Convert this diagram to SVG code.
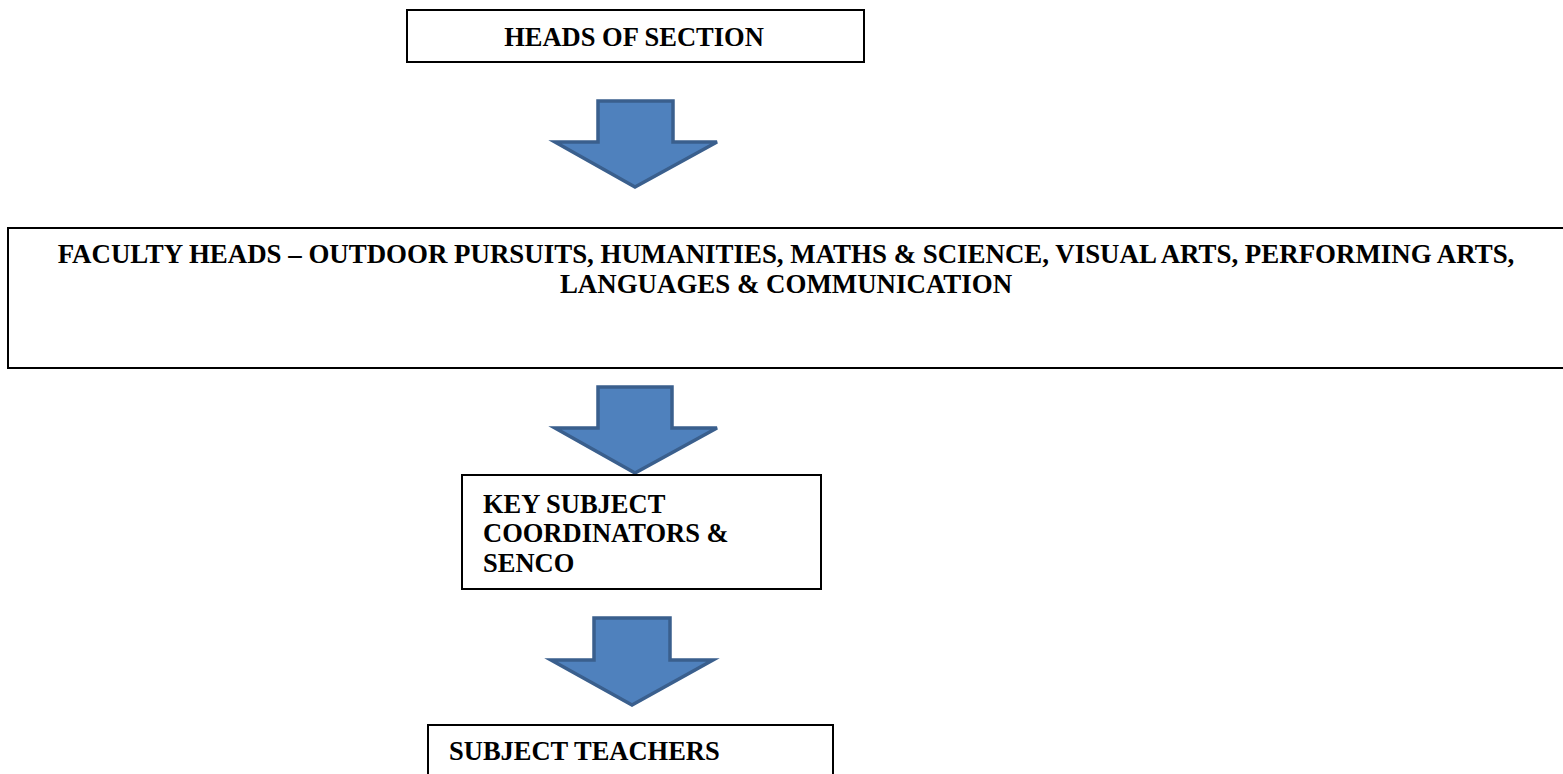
<svg xmlns="http://www.w3.org/2000/svg" width="1563" height="774" viewBox="0 0 1563 774">
<style>
.box{fill:#fff;stroke:#000;stroke-width:2}
.t{font-family:"Liberation Serif","Times New Roman",serif;font-weight:bold;font-size:26.5px;fill:#000}
.big{font-size:26.9px}
.arr{fill:#4F81BD;stroke:#3A5F8D;stroke-width:3.5;stroke-linejoin:miter}
</style>
<rect width="1563" height="774" fill="#fff"/>
<g id="connectors">
<polygon class="arr" points="598,101 673,101 673,142 717,142 635,187 555,142 598,142"/>
<polygon class="arr" points="598,387 672,387 672,428 717,428 635,473 555,428 598,428"/>
<polygon class="arr" points="594,618 670,618 670,660 713,660 632,705 551,660 594,660"/>
</g>
<g id="heads-of-section">
<rect class="box" x="407" y="10" width="457" height="52"/>
<text class="t" x="634" y="46" text-anchor="middle">HEADS OF SECTION</text>
</g>
<g id="faculty-heads">
<rect class="box" x="8" y="228" width="1560" height="140"/>
<text class="t big" x="786" y="263" text-anchor="middle">FACULTY HEADS – OUTDOOR PURSUITS, HUMANITIES, MATHS &amp; SCIENCE, VISUAL ARTS, PERFORMING ARTS,</text>
<text class="t big" x="786" y="293" text-anchor="middle">LANGUAGES &amp; COMMUNICATION</text>
</g>
<g id="key-subject-coordinators">
<rect class="box" x="462" y="475" width="359" height="114"/>
<text class="t" x="483" y="513">KEY SUBJECT</text>
<text class="t" x="483" y="542">COORDINATORS &amp;</text>
<text class="t" x="483" y="572">SENCO</text>
</g>
<g id="subject-teachers">
<rect class="box" x="428" y="725" width="405" height="60"/>
<text class="t" x="449" y="760">SUBJECT TEACHERS</text>
</g>
</svg>
